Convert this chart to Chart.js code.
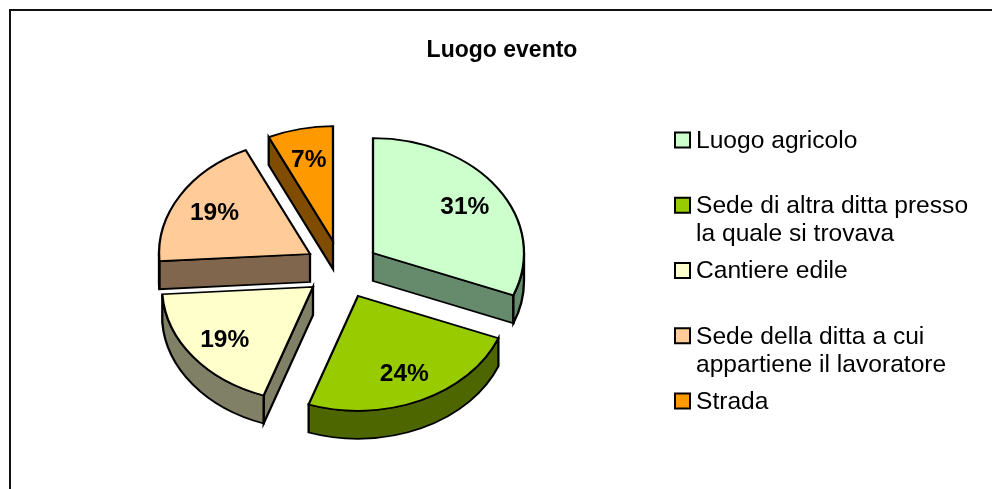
<!DOCTYPE html>
<html>
<head>
<meta charset="utf-8">
<title>Luogo evento</title>
<script src="https://cdn.jsdelivr.net/npm/chart.js@4"></script>
<style>
  html, body { margin: 0; padding: 0; background: #fff; overflow: hidden; }
  #frame { position: absolute; left: 9px; top: 9px; width: 1100px; height: 600px; border: 2px solid #111; }
  #chart { position: absolute; left: 0; top: 0; }
</style>
</head>
<body>
<div id="frame"></div>
<canvas id="chart" width="992" height="489"></canvas>
<script>
const chartTitle = 'Luogo evento';
const categories = [
  'Luogo agricolo',
  'Sede di altra ditta presso la quale si trovava',
  'Cantiere edile',
  'Sede della ditta a cui appartiene il lavoratore',
  'Strada'
];
const legendLines = [
  ['Luogo agricolo'],
  ['Sede di altra ditta presso', 'la quale si trovava'],
  ['Cantiere edile'],
  ['Sede della ditta a cui', 'appartiene il lavoratore'],
  ['Strada']
];
const percentages = [31, 24.3, 18.7, 19, 7];

const topColors = ['#CCFFCC', '#99CC00', '#FFFFCC', '#FFCC99', '#FF9900'];
const wallColors = ['#668A6C', '#4D6600', '#808066', '#80664D', '#804D00'];

// how far each slice is pulled out, in screen pixels
const explodeX = [28, 13, -32, -35, -12];
const explodeY = [-22, 21, 12, -21, -34];

const pieX = 345;
const pieY = 275;
const tilt = 0.76;   // squash of the pie to look 3D
const depth = 28;    // wall height on screen
const lineW = 2.3;
const font = 'Liberation Sans, Arial, sans-serif';

function tiltCtx(ctx) {
  ctx.translate(0, pieY);
  ctx.scale(1, tilt);
  ctx.translate(0, -pieY);
}

// walls first, the library then paints the slice tops over them
const pie3d = {
  id: 'pie3d',
  afterDatasetsUpdate(chart) {
    chart.getDatasetMeta(0).data.forEach((el, i) => {
      el.x = pieX + explodeX[i];
      el.y = pieY + explodeY[i] / tilt;
    });
  },
  beforeDatasetsDraw(chart) {
    const ctx = chart.ctx;
    const d = depth / tilt;
    ctx.save();
    tiltCtx(ctx);
    ctx.lineWidth = lineW;
    ctx.lineJoin = 'miter';
    ctx.strokeStyle = '#000';
    chart.getDatasetMeta(0).data.forEach((el, i) => {
      const { x, y, startAngle: a, endAngle: b, outerRadius: r } = el;
      ctx.fillStyle = wallColors[i];
      const radial = (t) => {
        ctx.beginPath();
        ctx.moveTo(x, y);
        ctx.lineTo(x + r * Math.cos(t), y + r * Math.sin(t));
        ctx.lineTo(x + r * Math.cos(t), y + d + r * Math.sin(t));
        ctx.lineTo(x, y + d);
        ctx.closePath();
        ctx.fill();
        ctx.stroke();
      };
      if (-Math.cos(a) > 0.001) radial(a);
      if (Math.cos(b) > 0.001) radial(b);
      // outer rim, only the part facing the viewer
      const two = Math.PI * 2;
      [[0, Math.PI], [two, two + Math.PI]].forEach(([lo, hi]) => {
        const from = Math.max(a, lo);
        const to = Math.min(b, hi);
        if (to <= from) return;
        ctx.beginPath();
        ctx.arc(x, y, r, from, to);
        ctx.arc(x, y + d, r, to, from, true);
        ctx.closePath();
        ctx.fill();
        ctx.stroke();
      });
    });
    ctx.restore();
  },
  beforeDatasetDraw(chart) {
    chart.ctx.save();
    tiltCtx(chart.ctx);
  },
  afterDatasetDraw(chart) {
    chart.ctx.restore();
  },
  afterDatasetsDraw(chart) {
    const ctx = chart.ctx;
    ctx.save();
    ctx.fillStyle = '#000';
    ctx.font = 'bold 24.5px ' + font;
    ctx.textAlign = 'center';
    ctx.textBaseline = 'middle';
    chart.getDatasetMeta(0).data.forEach((el, i) => {
      const mid = (el.startAngle + el.endAngle) / 2;
      const r = el.outerRadius * 0.735;
      const sy = pieY + (el.y + r * Math.sin(mid) - pieY) * tilt;
      ctx.fillText(Math.round(percentages[i]) + '%', el.x + r * Math.cos(mid), sy + 2);
    });
    ctx.restore();
  }
};

// legend swatch and text gap are tighter than the native legend allows
const sideLegend = {
  id: 'sideLegend',
  afterDraw(chart) {
    const ctx = chart.ctx;
    const left = 675, first = 140, pitch = 65.25, box = 15, lead = 28;
    ctx.save();
    ctx.font = '24.6px ' + font;
    ctx.textBaseline = 'middle';
    legendLines.forEach((lines, i) => {
      const y = first + i * pitch;
      ctx.fillStyle = topColors[i];
      ctx.strokeStyle = '#000';
      ctx.lineWidth = 2;
      ctx.fillRect(left, y - box / 2, box, box);
      ctx.strokeRect(left, y - box / 2, box, box);
      ctx.fillStyle = '#000';
      lines.forEach((t, n) => ctx.fillText(t, 696, y + 1 + n * lead));
    });
    ctx.restore();
  }
};

new Chart(document.getElementById('chart'), {
  type: 'pie',
  data: {
    labels: categories,
    datasets: [{
      data: percentages,
      backgroundColor: topColors,
      borderColor: '#000',
      borderWidth: lineW,
      borderJoinStyle: 'miter',
      radius: 151
    }]
  },
  options: {
    responsive: false,
    animation: false,
    layout: { padding: { left: 12 } },
    plugins: {
      legend: { display: false },
      tooltip: { enabled: false },
      title: {
        display: true,
        text: chartTitle,
        color: '#000',
        font: { family: font, size: 23, weight: 'bold' },
        padding: { top: 37, bottom: 10 }
      }
    }
  },
  plugins: [pie3d, sideLegend]
});
</script>
</body>
</html>
